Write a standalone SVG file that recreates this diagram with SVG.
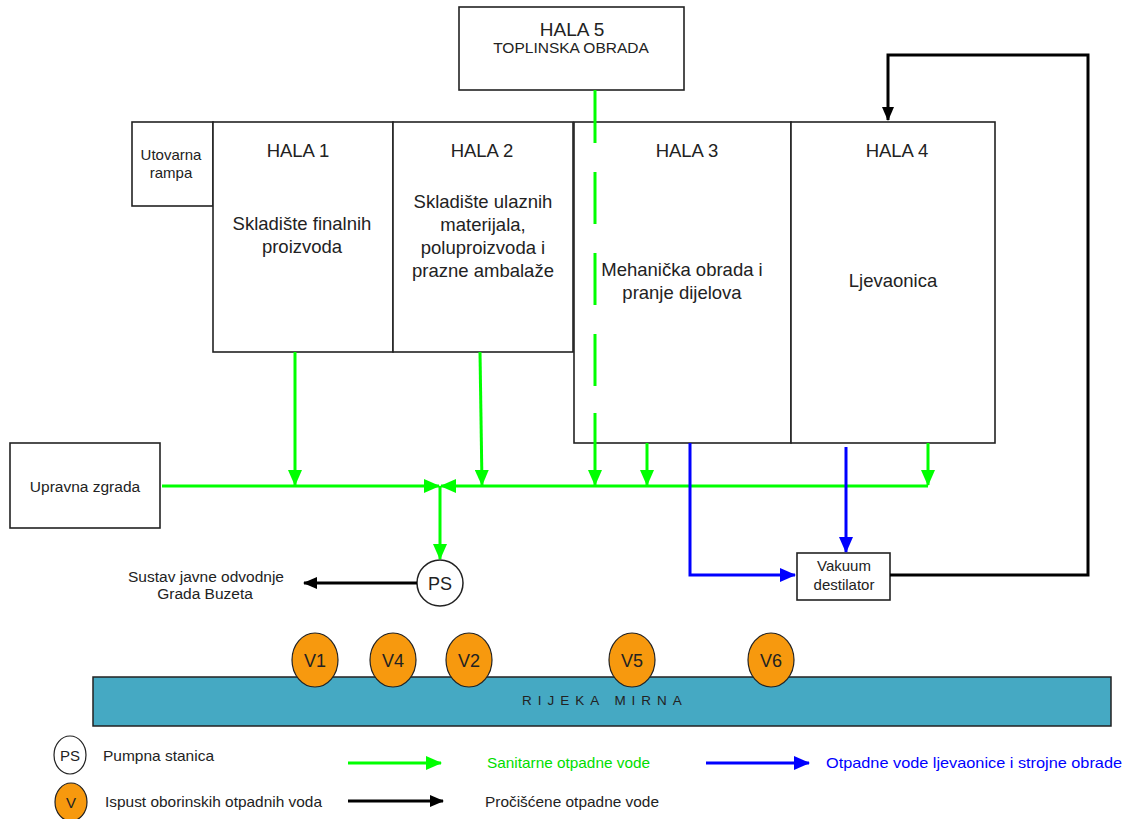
<svg xmlns="http://www.w3.org/2000/svg" width="1126" height="819" viewBox="0 0 1126 819">
<style>
.box{fill:#fff;stroke:#222;stroke-width:1.6}
.t{font-family:"Liberation Sans",Arial,sans-serif;fill:#222;text-anchor:middle}
.big{font-size:18.5px}
.sm{font-size:15.5px}
.g{stroke:#00ff00;stroke-width:3;fill:none}
.b{stroke:#0000ff;stroke-width:3;fill:none}
.k{stroke:#000;stroke-width:3;fill:none}
.v{fill:#f7990e;stroke:#222;stroke-width:1.2}
.lg{font-family:"Liberation Sans",Arial,sans-serif;font-size:15px}
</style>
<defs>
<marker id="ag" markerUnits="userSpaceOnUse" markerWidth="16" markerHeight="14" refX="15" refY="7" orient="auto"><path d="M0,0 L16,7 L0,14 z" fill="#00ff00"/></marker>
<marker id="ab" markerUnits="userSpaceOnUse" markerWidth="16" markerHeight="14" refX="15" refY="7" orient="auto"><path d="M0,0 L16,7 L0,14 z" fill="#0000ff"/></marker>
<marker id="ak" markerUnits="userSpaceOnUse" markerWidth="14" markerHeight="12" refX="13" refY="6" orient="auto"><path d="M0,0 L14,6 L0,12 z" fill="#000"/></marker>
</defs>
<rect width="1126" height="819" fill="#fff"/>

<g id="hala5"><rect class="box" x="459" y="7" width="225" height="83"/>
<text class="t" x="572" y="36" font-size="19">HALA 5</text>
<text class="t" x="571" y="53" font-size="15.5">TOPLINSKA OBRADA</text></g>

<g id="rampa"><rect class="box" x="132" y="122" width="81" height="84"/>
<text class="t" x="171" y="160" font-size="15">Utovarna</text>
<text class="t" x="171" y="178" font-size="15">rampa</text></g>

<g id="hala1"><rect class="box" x="213" y="122" width="180" height="230"/>
<text class="t big" x="298" y="157">HALA 1</text>
<text class="t big" x="302" y="230">Skladište finalnih</text>
<text class="t big" x="302" y="253">proizvoda</text></g>

<g id="hala2"><rect class="box" x="393" y="122" width="180" height="230"/>
<text class="t big" x="482" y="157">HALA 2</text>
<text class="t big" x="483" y="208">Skladište ulaznih</text>
<text class="t big" x="483" y="231">materijala,</text>
<text class="t big" x="483" y="254">poluproizvoda i</text>
<text class="t big" x="483" y="277">prazne ambalaže</text></g>

<g id="hala3"><rect class="box" x="574" y="122" width="217" height="321"/>
<text class="t big" x="687" y="157">HALA 3</text>
<text class="t big" x="682" y="276">Mehanička obrada i</text>
<text class="t big" x="682" y="299">pranje dijelova</text></g>

<g id="hala4"><rect class="box" x="791" y="122" width="204" height="321"/>
<text class="t big" x="897" y="157">HALA 4</text>
<text class="t big" x="893" y="287">Ljevaonica</text></g>

<g id="upravna"><rect class="box" x="10" y="443" width="150" height="85"/>
<text class="t sm" x="85" y="492">Upravna zgrada</text></g>

<g id="vakuum"><rect class="box" x="797" y="553" width="93" height="47"/>
<text class="t" x="844" y="571" font-size="15">Vakuum</text>
<text class="t" x="844" y="590" font-size="15">destilator</text></g>

<g id="ps"><circle cx="440" cy="583" r="23" fill="#fff" stroke="#222" stroke-width="1.5"/>
<text class="t" x="440" y="590" font-size="18">PS</text></g>

<g id="sustav"><text class="t sm" x="206" y="582">Sustav javne odvodnje</text>
<text class="t sm" x="205" y="599">Grada Buzeta</text></g>

<g id="connectors">
<line class="g" x1="595" y1="90" x2="595" y2="143"/>
<line class="g" x1="595" y1="143" x2="595" y2="413" stroke-dasharray="0 29 52 0" />
<line class="g" x1="595" y1="413" x2="595" y2="485" marker-end="url(#ag)"/>
<line class="g" x1="162" y1="486" x2="439" y2="486" marker-end="url(#ag)"/>
<line class="g" x1="928" y1="486" x2="441" y2="486" marker-end="url(#ag)"/>
<line class="g" x1="295" y1="352" x2="295" y2="485" marker-end="url(#ag)"/>
<line class="g" x1="480" y1="352" x2="482" y2="485" marker-end="url(#ag)"/>
<line class="g" x1="647" y1="443" x2="647" y2="485" marker-end="url(#ag)"/>
<line class="g" x1="928" y1="443" x2="928" y2="485" marker-end="url(#ag)"/>
<line class="g" x1="440" y1="486" x2="440" y2="559" marker-end="url(#ag)"/>
<polyline class="b" points="690,443 690,575 795,575" marker-end="url(#ab)"/>
<line class="b" x1="846" y1="447" x2="846" y2="552" marker-end="url(#ab)"/>
<polyline class="k" points="890,575 1088,575 1088,55 888,55 888,120" marker-end="url(#ak)"/>
<line class="k" x1="417" y1="583" x2="304" y2="583" marker-end="url(#ak)"/>
</g>

<g id="rijeka"><rect x="93" y="677" width="1018" height="49" fill="#45a9c3" stroke="#222" stroke-width="1.5"/>
<text x="605" y="705" font-family="'Liberation Sans',Arial,sans-serif" font-size="13.5" fill="#222" text-anchor="middle" letter-spacing="6">RIJEKA MIRNA</text></g>

<g id="v1"><ellipse class="v" cx="315" cy="660" rx="23" ry="27"/><text class="t" x="315" y="667" font-size="18">V1</text></g>
<g id="v4"><ellipse class="v" cx="393" cy="660" rx="23" ry="27"/><text class="t" x="393" y="667" font-size="18">V4</text></g>
<g id="v2"><ellipse class="v" cx="469" cy="660" rx="23" ry="27"/><text class="t" x="469" y="667" font-size="18">V2</text></g>
<g id="v5"><ellipse class="v" cx="632" cy="660" rx="23" ry="27"/><text class="t" x="632" y="667" font-size="18">V5</text></g>
<g id="v6"><ellipse class="v" cx="771" cy="660" rx="23" ry="27"/><text class="t" x="771" y="667" font-size="18">V6</text></g>

<g id="legend">
<ellipse cx="70" cy="755" rx="16" ry="19" fill="#fff" stroke="#222" stroke-width="1.2"/>
<text class="t" x="70" y="761" font-size="15">PS</text>
<text class="lg" x="103" y="761" fill="#222" textLength="111" lengthAdjust="spacingAndGlyphs">Pumpna stanica</text>
<ellipse class="v" cx="71" cy="802" rx="16" ry="19"/>
<text class="t" x="71" y="808" font-size="15">V</text>
<text class="lg" x="105" y="807" fill="#222" textLength="217" lengthAdjust="spacingAndGlyphs">Ispust oborinskih otpadnih voda</text>
<line class="g" x1="348" y1="763" x2="441" y2="763" marker-end="url(#ag)"/>
<text class="lg" x="487" y="768" fill="#00dd00" textLength="163" lengthAdjust="spacingAndGlyphs">Sanitarne otpadne vode</text>
<line class="b" x1="706" y1="763" x2="809" y2="763" marker-end="url(#ab)"/>
<text class="lg" x="826" y="768" fill="#0000ff" textLength="296" lengthAdjust="spacingAndGlyphs">Otpadne vode ljevaonice i strojne obrade</text>
<line class="k" x1="348" y1="801" x2="443" y2="801" stroke-width="4" marker-end="url(#ak)"/>
<text class="lg" x="485" y="807" fill="#222" textLength="174" lengthAdjust="spacingAndGlyphs">Pročišćene otpadne vode</text>
</g>
</svg>
